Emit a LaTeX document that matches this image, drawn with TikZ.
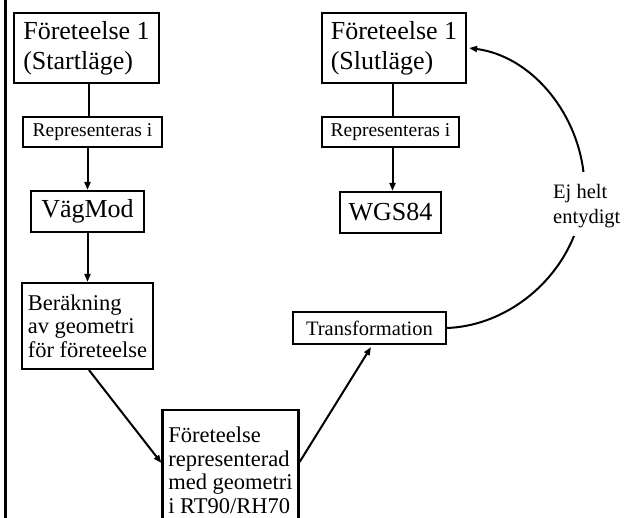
\documentclass[tikz,border=0pt]{standalone}
\usepackage{fontspec}
\setmainfont{Liberation Serif}
\usetikzlibrary{arrows.meta}
\tikzset{
  box/.style={draw, line width=2.2pt, inner sep=0pt, align=left},
  big/.style={font=\fontsize{26}{30}\selectfont},
  mid/.style={font=\fontsize{22.5}{23.5}\selectfont},
  small/.style={font=\fontsize{19.5}{22}\selectfont},
  conn/.style={line width=2pt},
  arr/.style={conn, -{Triangle[length=8pt,width=6pt]}}
}
\begin{document}
\begin{tikzpicture}[x=1pt,y=-1pt]
\useasboundingbox (0,0) rectangle (630,518);
\clip (0,0) rectangle (630,518);
\fill[white] (0,0) rectangle (630,518);
\draw[line width=2.7pt] (5.5,-2) -- (5.5,520);

\node[box,big,minimum width=145pt,minimum height=70pt] (s1) at (86.5,48) {Företeelse 1\\(Startläge)};
\node[box,small,minimum width=139pt,minimum height=30pt] (rep1) at (92.5,132) {Representeras i};
\node[box,big,minimum width=113pt,minimum height=41pt] (vag) at (87.5,211.5) {VägMod};
\node[box,mid,minimum width=131pt,minimum height=86pt] (ber) at (87.5,326) {Beräkning\\av geometri\\för företeelse};
\node[box,mid,minimum width=136pt,minimum height=120pt,anchor=north] (rep) at (230.5,409) {Företeelse\\representerad\\med geometri\\i RT90/RH70};
\node[box,small,font=\fontsize{20.5}{22}\selectfont,minimum width=153pt,minimum height=32pt] (tr) at (369.5,328) {Transformation};
\node[box,big,minimum width=144pt,minimum height=70pt] (s2) at (394,48) {Företeelse 1\\(Slutläge)};
\node[box,small,minimum width=137pt,minimum height=30pt] (rep2) at (390.5,132) {Representeras i};
\node[box,big,minimum width=101pt,minimum height=41pt] (wgs) at (390.5,212.5) {WGS84};
\node[inner sep=0pt,align=left,font=\fontsize{20.5}{25}\selectfont,anchor=north west] (ej) at (553,184) {Ej helt\\entydigt};

\coordinate (gapLow) at (574,236);
\coordinate (gapHigh) at (583.5,172);

\draw[conn] ([xshift=2.5pt]s1.south) -- ([xshift=2.5pt]s1.south |- rep1.north);
\draw[arr] (rep1.south -| vag.north) -- (vag.north);
\draw[arr] (vag.south) -- (ber.north);
\draw[arr] ([xshift=1.5pt]ber.south) -- ([yshift=-54pt]rep.north west);
\draw[arr] ([yshift=-53pt]rep.north east) -- ([xshift=1.5pt,yshift=-2pt]tr.south);
\draw[conn] ([xshift=-1pt]s2.south) -- ([xshift=-1pt]s2.south |- rep2.north);
\draw[arr] ([xshift=2pt]rep2.south) -- ([xshift=2pt]wgs.north);
\draw[conn] (tr.east) .. controls (500,326) and (552,290) .. (gapLow);
\draw[arr] (gapHigh) .. controls (576,110) and (530,56) .. ([xshift=2pt]s2.east);
\end{tikzpicture}
\end{document}
